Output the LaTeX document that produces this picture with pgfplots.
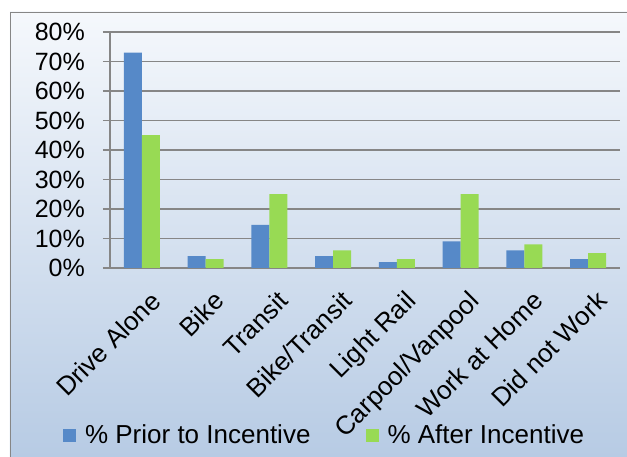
\documentclass[border=0pt]{standalone}
\usepackage{pgfplots}
\pgfplotsset{compat=1.18}
\usetikzlibrary{backgrounds}
\usepackage{fontspec}
\setmainfont{Liberation Sans}
\definecolor{barblue}{RGB}{86,137,200}
\definecolor{bargreen}{RGB}{152,218,84}
\definecolor{gridgray}{RGB}{134,134,134}
\definecolor{bgtop}{RGB}{245,248,252}
\definecolor{bgbot}{RGB}{183,203,228}

\begin{document}
\begin{tikzpicture}[x=1pt,y=1pt]
\begin{axis}[
  scale only axis, width=510pt, height=236pt,
  ybar=0pt, bar width=18pt,
  xmin=-0.5, xmax=7.5, ymin=0, ymax=80,
  axis x line*=bottom, axis y line*=left,
  axis line style={gridgray, line width=1.5pt, -},
  /pgf/number format/assume math mode=true,
  ytick={0,10,...,80},
  yticklabel={\pgfmathprintnumber{\tick}\%},
  yticklabel style={font=\fontsize{25}{27}\selectfont, inner sep=0pt, anchor=east, xshift=-18pt},
  xtick={0,...,7},
  xticklabels={Drive Alone, Bike, Transit, Bike/Transit, Light Rail, Carpool/Vanpool, Work at Home, Did not Work},
  xticklabel style={font=\fontsize{26}{28}\selectfont, inner sep=0pt, rotate=45, anchor=north east, xshift=-5pt, yshift=-15pt},
  minor xtick={-0.5,0.5,...,7.5},
  tick align=outside,
  major tick length=7pt, minor tick length=7pt,
  xtick style={draw=none},
  ytick style={gridgray, line width=1.5pt},
  minor x tick style={gridgray, line width=1.5pt},
  ymajorgrids,
  major grid style={gridgray, line width=1.5pt},
  legend columns=2,
  legend image code/.code={\fill[#1] (0pt,-6.5pt) rectangle (13pt,6.5pt);},
  legend style={at={(axis description cs:-0.092,-0.708)}, anchor=west,
    draw=none, fill=none, inner sep=0pt, outer sep=0pt,
    font=\fontsize{26}{28}\selectfont,
    nodes={inner sep=0pt},
    /tikz/every odd column/.append style={column sep=9pt},
    /tikz/every even column/.append style={column sep=55pt}},
]
\addplot[fill=barblue, draw=none] coordinates {
(0,73) (1,4) (2,14.6) (3,4) (4,2) (5,9) (6,6) (7,3)
};
\addplot[fill=bargreen, draw=none] coordinates {
(0,45) (1,3) (2,25) (3,6) (4,3) (5,25) (6,8) (7,5)
};
\addlegendentry{\% Prior to Incentive}
\addlegendentry{\% After Incentive}
\coordinate (sw) at (rel axis cs:0,0);
\end{axis}
\begin{scope}[on background layer]
\shade[top color=bgtop,bottom color=bgbot] ([shift={(-100,-189)}]sw) rectangle ([shift={(517,256)}]sw);
\draw[gridgray,line width=1.5pt] ([shift={(-99.25,-189)}]sw) -- ([shift={(-99.25,255.25)}]sw) -- ([shift={(517,255.25)}]sw);
\end{scope}
\pgfresetboundingbox
\path[use as bounding box] ([shift={(-110,-189)}]sw) rectangle ([shift={(517,268)}]sw);
\end{tikzpicture}
\end{document}
